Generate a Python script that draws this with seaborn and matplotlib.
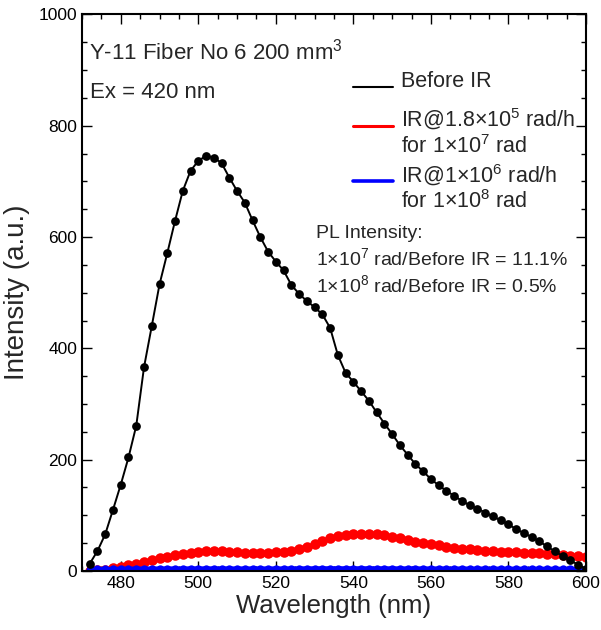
import matplotlib
matplotlib.use("Agg")
import matplotlib.pyplot as plt
import seaborn as sns
import pandas as pd
from matplotlib.lines import Line2D
from matplotlib.ticker import MultipleLocator

# ---- data ----
wavelength = list(range(472, 601, 2))

before_ir = [13, 36, 66, 110, 155, 204, 261, 366, 440, 515,
             571, 629, 683, 719, 737, 746, 743, 733, 707, 683,
             662, 630, 600, 574, 556, 540, 514, 498, 485, 474,
             461, 437, 388, 356, 340, 323, 306, 285, 265, 246,
             226, 209, 192, 179, 165, 154, 144, 135, 126, 118,
             112, 105, 98, 91, 84, 75, 68, 61, 53, 44,
             35, 27, 19, 11, 4]

ir_1e7 = [0, 1, 2.5, 4.8, 7.8, 10.2, 13.2, 15.6, 19.2, 22.8,
          25.2, 28.2, 31.1, 33.0, 34.7, 35.9, 36.0, 35.9, 34.7, 33.5,
          33.0, 32.5, 32.3, 33.0, 33.5, 34.8, 36.5, 39.5, 43.7, 48.5,
          53.9, 58.7, 62.3, 64.7, 66.5, 67.1, 67.1, 65.9, 64.7, 61.7,
          58.7, 55.7, 52.7, 50.5, 48.5, 46.1, 43.7, 41.9, 40.1, 38.9,
          37.7, 36.5, 35.3, 34.7, 34.1, 33.5, 32.9, 32.3, 31.7, 31.1,
          29.9, 28.8, 27.6, 26.3, 24.5]

ir_1e8 = [2.5, 2.8, 3.0, 3.2, 3.4, 3.5, 3.6, 3.7, 3.8, 3.8,
          3.9, 3.9, 3.9, 4.0, 4.0, 4.0, 4.0, 4.0, 3.9, 3.9,
          3.9, 3.9, 3.9, 3.9, 3.9, 3.9, 4.0, 4.0, 4.1, 4.1,
          4.2, 4.2, 4.2, 4.2, 4.2, 4.2, 4.2, 4.1, 4.1, 4.1,
          4.0, 4.0, 4.0, 3.9, 3.9, 3.9, 3.8, 3.8, 3.8, 3.7,
          3.7, 3.7, 3.6, 3.6, 3.6, 3.5, 3.5, 3.5, 3.4, 3.4,
          3.4, 3.3, 3.3, 3.2, 3.2]

labels = [["Before IR"],
          ["IR@1.8\u00d710$^{5}$ rad/h", "for 1\u00d710$^{7}$ rad"],
          ["IR@1\u00d710$^{6}$ rad/h", "for 1\u00d710$^{8}$ rad"]]
title_lines = ["Y-11 Fiber No 6 200 mm$^{3}$", "Ex = 420 nm"]
pl_lines = ["PL Intensity:",
            "1\u00d710$^{7}$ rad/Before IR = 11.1%",
            "1\u00d710$^{8}$ rad/Before IR = 0.5%"]

df = pd.DataFrame({"wl": wavelength, "before": before_ir,
                   "ir7": ir_1e7, "ir8": ir_1e8})

# ---- style ----
sns.set_style("ticks")
plt.rcParams["font.family"] = ["Liberation Sans", "DejaVu Sans"]
plt.rcParams["mathtext.default"] = "regular"
plt.rcParams["axes.linewidth"] = 1.5

fig = plt.figure(figsize=(6.01, 6.30), dpi=100)
ax = fig.add_axes([0.1364, 0.0937, 0.8386, 0.8833])

sns.lineplot(data=df, x="wl", y="ir7", ax=ax, color="#ff0000", marker="o",
             markersize=7.6, markeredgewidth=0, linewidth=2.0)
sns.lineplot(data=df, x="wl", y="ir8", ax=ax, color="#0000ff", marker="o",
             markersize=6.0, markeredgewidth=0, linewidth=3.5)
sns.lineplot(data=df, x="wl", y="before", ax=ax, color="black", marker="o",
             markersize=6.3, markeredgewidth=0, linewidth=1.4)

ax.set_xlim(470, 600)
ax.set_ylim(0, 1000)
ax.xaxis.set_major_locator(MultipleLocator(20))
ax.xaxis.set_minor_locator(MultipleLocator(5))
ax.yaxis.set_major_locator(MultipleLocator(200))
ax.yaxis.set_minor_locator(MultipleLocator(50))
ax.tick_params(which="both", direction="in", top=True, right=True,
               labelsize=12.5, colors="black", width=1.0)
ax.tick_params(which="major", length=7)
ax.tick_params(which="minor", length=3.5)
ax.set_xticks([480, 500, 520, 540, 560, 580, 600])
ax.set_xlabel("Wavelength (nm)", fontsize=18.5, labelpad=2)
ax.set_ylabel("Intensity (a.u.)", fontsize=20, labelpad=6)
for s in ax.spines.values():
    s.set_color("black")

# ---- annotations ----
ax.text(0.014, 0.9195, title_lines[0], transform=ax.transAxes,
        fontsize=16, va="baseline", ha="left")
ax.text(0.016, 0.8494, title_lines[1], transform=ax.transAxes,
        fontsize=16, va="baseline", ha="left")

# legend keys and labels
key_colors = ["black", "#ff0000", "#0000ff"]
key_widths = [1.5, 2.2, 2.6]
key_y = [0.869, 0.800, 0.700]
label_y = [[0.869], [0.798, 0.7506], [0.6978, 0.6517]]
for c, lw, ky, lys, labs in zip(key_colors, key_widths, key_y, label_y, labels):
    ax.add_line(Line2D([0.538, 0.617], [ky, ky], color=c, lw=lw,
                       transform=ax.transAxes))
    for ly, lab in zip(lys, labs):
        ax.text(0.633, ly, lab, transform=ax.transAxes, fontsize=15.5,
                va="baseline", ha="left")

pl_y = [0.598, 0.5499, 0.5019]
for y, t in zip(pl_y, pl_lines):
    ax.text(0.464, y, t, transform=ax.transAxes, fontsize=14,
            va="baseline", ha="left")

fig.savefig("out.png", dpi=100)
